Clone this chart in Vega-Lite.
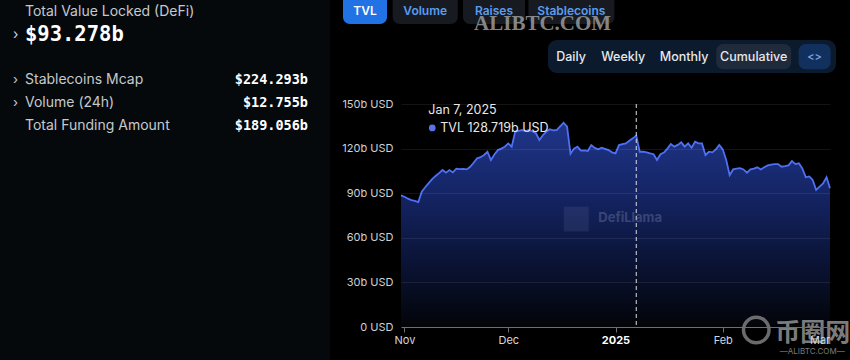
{
  "$schema": "https://vega.github.io/schema/vega-lite/v6.json",
  "background": "#000000",
  "padding": 0,
  "spacing": 0,
  "bounds": "full",
  "config": {"view": {"stroke": null}, "text": {"font": "Inter"}},
  "datasets": {
    "summary": [
      {"metric": "Total Value Locked (DeFi)", "amount": "$93.278b", "kind": "headline", "expandable": true},
      {"metric": "Stablecoins Mcap", "amount": "$224.293b", "kind": "metric", "expandable": true},
      {"metric": "Volume (24h)", "amount": "$12.755b", "kind": "metric", "expandable": true},
      {"metric": "Total Funding Amount", "amount": "$189.056b", "kind": "metric", "expandable": false}
    ],
    "tabs": [
      {"tab": "TVL", "selected": true},
      {"tab": "Volume", "selected": false},
      {"tab": "Raises", "selected": false},
      {"tab": "Stablecoins", "selected": false}
    ],
    "periods": [
      {"period": "Daily", "selected": false},
      {"period": "Weekly", "selected": false},
      {"period": "Monthly", "selected": false},
      {"period": "Cumulative", "selected": true},
      {"period": "<>", "selected": false}
    ],
    "hover": [{"date": "2025-01-07", "tvl": 128.719, "tip": "TVL  128.719b USD", "brand": "DefiLlama", "site": "币圈网", "domain": "—ALIBTC.COM—"}],
    "tvl": [
      {"date": "2024-10-31", "tvl": 88.5}, {"date": "2024-11-01", "tvl": 87.6}, {"date": "2024-11-02", "tvl": 86.3},
      {"date": "2024-11-03", "tvl": 85.4}, {"date": "2024-11-04", "tvl": 84.8}, {"date": "2024-11-05", "tvl": 84.0},
      {"date": "2024-11-06", "tvl": 91.0}, {"date": "2024-11-07", "tvl": 94.0}, {"date": "2024-11-08", "tvl": 96.8},
      {"date": "2024-11-09", "tvl": 99.5}, {"date": "2024-11-10", "tvl": 101.6}, {"date": "2024-11-11", "tvl": 103.5},
      {"date": "2024-11-12", "tvl": 105.6}, {"date": "2024-11-13", "tvl": 103.8}, {"date": "2024-11-14", "tvl": 105.6},
      {"date": "2024-11-15", "tvl": 104.0}, {"date": "2024-11-16", "tvl": 106.5}, {"date": "2024-11-17", "tvl": 106.2},
      {"date": "2024-11-18", "tvl": 106.4}, {"date": "2024-11-19", "tvl": 106.0}, {"date": "2024-11-20", "tvl": 107.8},
      {"date": "2024-11-21", "tvl": 110.5}, {"date": "2024-11-22", "tvl": 113.5}, {"date": "2024-11-23", "tvl": 114.2},
      {"date": "2024-11-24", "tvl": 115.7}, {"date": "2024-11-25", "tvl": 117.9}, {"date": "2024-11-26", "tvl": 112.3},
      {"date": "2024-11-27", "tvl": 116.0}, {"date": "2024-11-28", "tvl": 119.0}, {"date": "2024-11-29", "tvl": 120.0},
      {"date": "2024-11-30", "tvl": 121.3}, {"date": "2024-12-01", "tvl": 123.5}, {"date": "2024-12-02", "tvl": 121.3},
      {"date": "2024-12-03", "tvl": 131.4}, {"date": "2024-12-04", "tvl": 132.0}, {"date": "2024-12-05", "tvl": 132.5},
      {"date": "2024-12-06", "tvl": 131.8}, {"date": "2024-12-07", "tvl": 132.5}, {"date": "2024-12-08", "tvl": 131.5},
      {"date": "2024-12-09", "tvl": 130.3}, {"date": "2024-12-10", "tvl": 125.8}, {"date": "2024-12-11", "tvl": 129.0},
      {"date": "2024-12-12", "tvl": 131.4}, {"date": "2024-12-13", "tvl": 133.0}, {"date": "2024-12-14", "tvl": 132.3},
      {"date": "2024-12-15", "tvl": 132.5}, {"date": "2024-12-16", "tvl": 135.0}, {"date": "2024-12-17", "tvl": 137.4},
      {"date": "2024-12-18", "tvl": 134.8}, {"date": "2024-12-19", "tvl": 116.5}, {"date": "2024-12-20", "tvl": 120.0},
      {"date": "2024-12-21", "tvl": 121.3}, {"date": "2024-12-22", "tvl": 118.6}, {"date": "2024-12-23", "tvl": 118.8},
      {"date": "2024-12-24", "tvl": 118.4}, {"date": "2024-12-25", "tvl": 122.4}, {"date": "2024-12-26", "tvl": 120.5},
      {"date": "2024-12-27", "tvl": 119.5}, {"date": "2024-12-28", "tvl": 120.6}, {"date": "2024-12-29", "tvl": 119.8},
      {"date": "2024-12-30", "tvl": 119.0}, {"date": "2024-12-31", "tvl": 117.5}, {"date": "2025-01-01", "tvl": 116.8},
      {"date": "2025-01-02", "tvl": 122.4}, {"date": "2025-01-03", "tvl": 123.0}, {"date": "2025-01-04", "tvl": 123.5},
      {"date": "2025-01-05", "tvl": 125.3}, {"date": "2025-01-06", "tvl": 126.9}, {"date": "2025-01-07", "tvl": 128.719},
      {"date": "2025-01-08", "tvl": 117.9}, {"date": "2025-01-09", "tvl": 118.0}, {"date": "2025-01-10", "tvl": 117.5},
      {"date": "2025-01-11", "tvl": 116.8}, {"date": "2025-01-12", "tvl": 116.2}, {"date": "2025-01-13", "tvl": 112.3},
      {"date": "2025-01-14", "tvl": 116.2}, {"date": "2025-01-15", "tvl": 117.3}, {"date": "2025-01-16", "tvl": 120.0},
      {"date": "2025-01-17", "tvl": 123.1}, {"date": "2025-01-18", "tvl": 121.3}, {"date": "2025-01-19", "tvl": 122.5},
      {"date": "2025-01-20", "tvl": 124.2}, {"date": "2025-01-21", "tvl": 121.3}, {"date": "2025-01-22", "tvl": 123.5},
      {"date": "2025-01-23", "tvl": 120.6}, {"date": "2025-01-24", "tvl": 124.6}, {"date": "2025-01-25", "tvl": 123.5},
      {"date": "2025-01-26", "tvl": 123.5}, {"date": "2025-01-27", "tvl": 115.7}, {"date": "2025-01-28", "tvl": 117.9},
      {"date": "2025-01-29", "tvl": 117.5}, {"date": "2025-01-30", "tvl": 119.5}, {"date": "2025-01-31", "tvl": 122.4},
      {"date": "2025-02-01", "tvl": 119.5}, {"date": "2025-02-02", "tvl": 112.3}, {"date": "2025-02-03", "tvl": 102.2},
      {"date": "2025-02-04", "tvl": 106.0}, {"date": "2025-02-05", "tvl": 106.5}, {"date": "2025-02-06", "tvl": 106.8},
      {"date": "2025-02-07", "tvl": 106.0}, {"date": "2025-02-08", "tvl": 103.8}, {"date": "2025-02-09", "tvl": 106.0},
      {"date": "2025-02-10", "tvl": 106.5}, {"date": "2025-02-11", "tvl": 107.4}, {"date": "2025-02-12", "tvl": 106.0},
      {"date": "2025-02-13", "tvl": 107.5}, {"date": "2025-02-14", "tvl": 108.7}, {"date": "2025-02-15", "tvl": 109.2},
      {"date": "2025-02-16", "tvl": 109.6}, {"date": "2025-02-17", "tvl": 109.6}, {"date": "2025-02-18", "tvl": 107.8},
      {"date": "2025-02-19", "tvl": 108.2}, {"date": "2025-02-20", "tvl": 108.7}, {"date": "2025-02-21", "tvl": 111.6},
      {"date": "2025-02-22", "tvl": 109.6}, {"date": "2025-02-23", "tvl": 110.1}, {"date": "2025-02-24", "tvl": 106.7},
      {"date": "2025-02-25", "tvl": 100.7}, {"date": "2025-02-26", "tvl": 101.3}, {"date": "2025-02-27", "tvl": 98.9},
      {"date": "2025-02-28", "tvl": 92.2}, {"date": "2025-03-01", "tvl": 94.4}, {"date": "2025-03-02", "tvl": 96.5},
      {"date": "2025-03-03", "tvl": 100.7}, {"date": "2025-03-04", "tvl": 93.3}
    ]
  },
  "hconcat": [
    {
      "width": 330,
      "height": 360,
      "view": {"fill": "#05090c", "stroke": null},
      "data": {"name": "summary"},
      "encoding": {
        "x": {"datum": "label", "type": "nominal", "scale": {"type": "point", "domain": ["label", "amount"], "range": [25, 308], "padding": 0}, "axis": null}
      },
      "layer": [
        {
          "transform": [{"filter": "datum.kind === 'headline'"}],
          "mark": {"type": "text", "align": "left", "baseline": "middle", "fontSize": 14, "color": "#c5c9ce"},
          "encoding": {
            "y": {"datum": "title", "type": "nominal", "scale": {"type": "point", "domain": ["title", "headline", "spacer", "Stablecoins Mcap", "Volume (24h)", "Total Funding Amount"], "range": [12, 126], "padding": 0}, "axis": null},
            "text": {"field": "metric"}
          }
        },
        {
          "transform": [{"filter": "datum.kind === 'headline'"}],
          "mark": {"type": "text", "align": "left", "baseline": "middle", "fontSize": 20.5, "fontWeight": "bold", "font": "DejaVu Sans Mono", "color": "#ffffff"},
          "encoding": {"y": {"datum": "headline", "type": "nominal"}, "text": {"field": "amount"}}
        },
        {
          "transform": [{"filter": "datum.kind === 'headline' && datum.expandable"}],
          "mark": {"type": "text", "align": "left", "baseline": "middle", "fontSize": 14, "dx": -12, "color": "#d0d3d8"},
          "encoding": {"y": {"datum": "headline", "type": "nominal"}, "text": {"value": "›"}}
        },
        {
          "transform": [{"filter": "datum.kind === 'metric'"}],
          "mark": {"type": "text", "align": "left", "baseline": "middle", "fontSize": 14, "color": "#c5c9ce"},
          "encoding": {"y": {"field": "metric", "type": "nominal"}, "text": {"field": "metric"}}
        },
        {
          "transform": [{"filter": "datum.kind === 'metric'"}],
          "mark": {"type": "text", "align": "right", "baseline": "middle", "fontSize": 13.5, "fontWeight": "bold", "font": "DejaVu Sans Mono", "color": "#ffffff"},
          "encoding": {"x": {"datum": "amount", "type": "nominal"}, "y": {"field": "metric", "type": "nominal"}, "text": {"field": "amount"}}
        },
        {
          "transform": [{"filter": "datum.kind === 'metric' && datum.expandable"}],
          "mark": {"type": "text", "align": "left", "baseline": "middle", "fontSize": 13, "dx": -12, "color": "#c5c9ce"},
          "encoding": {"y": {"field": "metric", "type": "nominal"}, "text": {"value": "›"}}
        }
      ]
    },
    {
      "vconcat": [
        {
          "width": 449,
          "height": 40,
          "data": {"name": "tabs"},
          "encoding": {
            "x": {"field": "tab", "type": "nominal", "scale": {"type": "point", "domain": ["TVL", "r1", "r2", "r3", "r4", "r5", "r6", "Volume", "r8", "r9", "r10", "r11", "r12", "r13", "r14", "Raises", "r16", "r17", "r18", "r19", "r20", "r21", "r22", "r23", "Stablecoins"], "range": [-36, 170.4], "padding": 0}, "axis": null}
          },
          "layer": [
            {
              "mark": {"type": "bar", "cornerRadiusBottomLeft": 7, "cornerRadiusBottomRight": 7},
              "encoding": {
                "y": {"datum": 0, "type": "quantitative", "scale": {"domain": [0, 40], "reverse": true}, "axis": null},
                "y2": {"datum": 24},
                "size": {"field": "tab", "type": "nominal", "scale": {"type": "ordinal", "domain": ["TVL", "Volume", "Raises", "Stablecoins"], "range": [44, 65, 62, 86]}, "legend": null},
                "color": {"condition": {"test": "datum.selected", "value": "#2172e5"}, "value": "#171b21"}
              }
            },
            {
              "mark": {"type": "text", "align": "center", "baseline": "middle", "fontSize": 12, "fontWeight": 600},
              "encoding": {
                "y": {"datum": 11, "type": "quantitative"},
                "text": {"field": "tab"},
                "color": {"condition": {"test": "datum.selected", "value": "#ffffff"}, "value": "#5b9bf0"}
              }
            },
            {
              "data": {"values": [{"watermark": "ALIBTC.COM"}]},
              "mark": {"type": "text", "align": "center", "baseline": "middle", "fontSize": 21, "fontWeight": "bold", "font": "Liberation Serif", "color": "#9a9a9a", "opacity": 0.85, "dx": -3},
              "encoding": {
                "x": {"datum": "r21", "type": "nominal"},
                "y": {"datum": 24, "type": "quantitative"},
                "text": {"field": "watermark"}
              }
            }
          ]
        },
        {
          "width": 449,
          "height": 34,
          "data": {"name": "periods"},
          "encoding": {
            "x": {"field": "period", "type": "nominal", "scale": {"type": "point", "domain": ["p0", "p1", "p2", "Daily", "p4", "p5", "p6", "p7", "p8", "Weekly", "p10", "p11", "p12", "p13", "p14", "p15", "Monthly", "p17", "p18", "p19", "p20", "p21", "p22", "p23", "Cumulative", "p25", "p26", "p27", "p28", "p29", "p30", "<>", "p32", "p33", "p34"], "range": [143.9, 439.7], "padding": 0}, "axis": null}
          },
          "layer": [
            {
              "transform": [{"aggregate": [{"op": "count", "as": "n"}]}],
              "mark": {"type": "rect", "cornerRadius": 9, "color": "#0c1a2e", "xOffset": 3, "x2Offset": -4.7},
              "encoding": {
                "x": {"datum": "p0", "type": "nominal"},
                "x2": {"datum": "p34"},
                "y": {"datum": 0, "type": "quantitative", "scale": {"domain": [0, 34], "reverse": true}, "axis": null},
                "y2": {"datum": 34}
              }
            },
            {
              "transform": [{"filter": "datum.selected"}],
              "mark": {"type": "bar", "cornerRadius": 7, "color": "#1f2a3b"},
              "encoding": {
                "y": {"datum": 4, "type": "quantitative"},
                "y2": {"datum": 30},
                "size": {"value": 75}
              }
            },
            {
              "transform": [{"filter": "datum.period === '<>'"}],
              "mark": {"type": "bar", "cornerRadius": 7, "color": "#12305e"},
              "encoding": {
                "y": {"datum": 4, "type": "quantitative"},
                "y2": {"datum": 30},
                "size": {"value": 32}
              }
            },
            {
              "mark": {"type": "text", "align": "center", "baseline": "middle", "fontWeight": 500},
              "encoding": {
                "y": {"datum": 17, "type": "quantitative"},
                "text": {"field": "period"},
                "size": {"condition": {"test": "datum.period === '<>'", "value": 11}, "value": 12.5},
                "color": {"condition": {"test": "datum.period === '<>'", "value": "#7ea3e8"}, "value": "#e6e8eb"}
              }
            }
          ]
        },
        {
          "width": 429,
          "height": 253,
          "data": {"name": "tvl"},
          "encoding": {
            "x": {
              "field": "date", "type": "temporal",
              "scale": {"type": "utc", "domain": [{"year": 2024, "month": 10, "date": 31, "utc": true}, {"year": 2025, "month": 3, "date": 4, "utc": true}]},
              "axis": {
                "title": null, "grid": false, "zindex": 1,
                "values": [
                  {"year": 2024, "month": 11, "date": 1, "utc": true},
                  {"year": 2024, "month": 12, "date": 1, "utc": true},
                  {"year": 2025, "month": 1, "date": 1, "utc": true},
                  {"year": 2025, "month": 2, "date": 1, "utc": true},
                  {"year": 2025, "month": 3, "date": 1, "utc": true}
                ],
                "labelExpr": "utcmonth(datum.value) === 0 ? utcFormat(datum.value, '%Y') : utcFormat(datum.value, '%b')",
                "labelFontWeight": {"expr": "utcmonth(datum.value) === 0 ? 'bold' : 'normal'"},
                "labelColor": {"expr": "utcmonth(datum.value) === 0 ? '#ffffff' : '#d5d8dd'"},
                "labelFont": "Inter", "labelFontSize": 11, "labelPadding": 2,
                "labelFlush": false, "labelOverlap": false,
                "domainColor": "#6e7079", "tickColor": "#6e7079", "tickSize": 5
              }
            }
          },
          "layer": [
            {
              "mark": {
                "type": "area", "interpolate": "linear",
                "color": {"gradient": "linear", "x1": 0, "y1": 0, "x2": 0, "y2": 1, "stops": [
                  {"offset": 0, "color": "#2d4cc2"},
                  {"offset": 0.35, "color": "#1d3490"},
                  {"offset": 0.68, "color": "#0f1c4d"},
                  {"offset": 1, "color": "#04060c"}
                ]},
                "line": {"color": "#4f70f5", "strokeWidth": 1.8}
              },
              "encoding": {
                "y": {
                  "field": "tvl", "type": "quantitative",
                  "scale": {"domain": [0, 170.18], "nice": false, "zero": true},
                  "axis": {
                    "title": null, "values": [0, 30, 60, 90, 120, 150],
                    "labelExpr": "datum.value === 0 ? '0 USD' : datum.value + 'b USD'",
                    "domain": false, "ticks": false, "labelPadding": 8,
                    "minExtent": 71, "maxExtent": 71, "zindex": 1,
                    "gridColor": "#ffffff", "gridOpacity": 0.08,
                    "labelColor": "#cdd1d6", "labelFont": "Inter", "labelFontSize": 11
                  }
                }
              }
            },
            {
              "data": {"name": "hover"},
              "mark": {"type": "rule", "color": "#dcdcdc", "strokeDash": [4, 3], "strokeWidth": 1},
              "encoding": {"y": {"datum": 150, "type": "quantitative"}, "y2": {"datum": 0}}
            },
            {
              "data": {"name": "hover"},
              "mark": {"type": "text", "align": "left", "baseline": "middle", "fontSize": 12.5, "color": "#e8e8e8", "dx": -208},
              "encoding": {
                "y": {"datum": 146, "type": "quantitative"},
                "text": {"field": "date", "type": "temporal", "timeUnit": "utcyearmonthdate", "format": "%b %-d, %Y"}
              }
            },
            {
              "data": {"name": "hover"},
              "mark": {"type": "point", "filled": true, "size": 45, "color": "#5a73e8", "opacity": 1, "xOffset": -204},
              "encoding": {"y": {"datum": 133.9, "type": "quantitative"}}
            },
            {
              "data": {"name": "hover"},
              "mark": {"type": "text", "align": "left", "baseline": "middle", "fontSize": 12.5, "color": "#e8e8e8", "dx": -196},
              "encoding": {"y": {"datum": 133.9, "type": "quantitative"}, "text": {"field": "tip"}}
            },
            {
              "data": {"name": "hover"},
              "mark": {"type": "point", "filled": true, "shape": "square", "size": 620, "color": "#7f8cb5", "opacity": 0.14, "xOffset": -60},
              "encoding": {"y": {"datum": 72.6, "type": "quantitative"}}
            },
            {
              "data": {"name": "hover"},
              "mark": {"type": "text", "align": "left", "baseline": "middle", "fontSize": 13, "fontWeight": "bold", "color": "#7f8cb5", "opacity": 0.35, "dx": -38},
              "encoding": {"y": {"datum": 73.3, "type": "quantitative"}, "text": {"field": "brand"}}
            },
            {
              "data": {"name": "hover"},
              "mark": {"type": "point", "filled": false, "size": 650, "strokeWidth": 3.5, "color": "#8f8f8f", "opacity": 0.75, "xOffset": 120},
              "encoding": {"y": {"datum": -2, "type": "quantitative"}}
            },
            {
              "data": {"name": "hover"},
              "mark": {"type": "text", "align": "left", "baseline": "middle", "fontSize": 25, "fontWeight": "bold", "font": "Noto Sans CJK SC", "color": "#9a9a9a", "opacity": 0.8, "dx": 139},
              "encoding": {"y": {"datum": -4, "type": "quantitative"}, "text": {"field": "site"}}
            },
            {
              "data": {"name": "hover"},
              "mark": {"type": "text", "align": "center", "baseline": "middle", "fontSize": 8, "color": "#9a9a9a", "opacity": 0.8, "dx": 176},
              "encoding": {"y": {"datum": -16.8, "type": "quantitative"}, "text": {"field": "domain"}}
            }
          ]
        }
      ],
      "spacing": 0,
      "align": "each"
    }
  ]
}
